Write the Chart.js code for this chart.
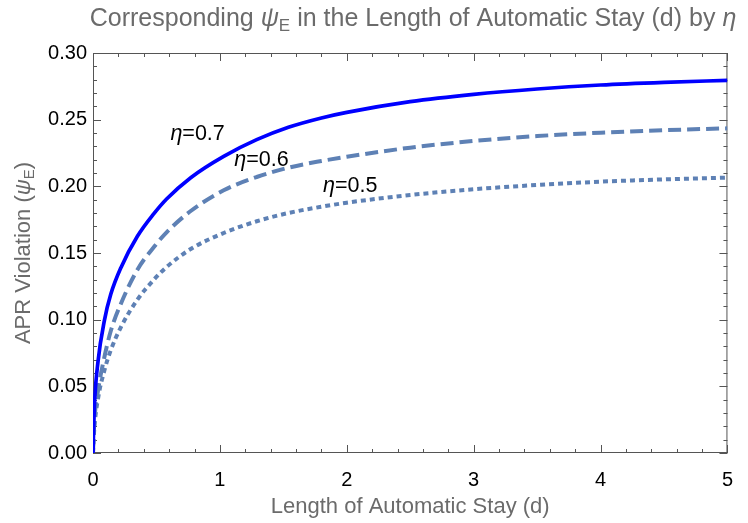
<!DOCTYPE html>
<html>
<head>
<meta charset="utf-8">
<script src="https://cdn.jsdelivr.net/npm/chart.js@4/dist/chart.umd.min.js"></script>
<style>
  html, body { margin: 0; padding: 0; background: #fff; }
  #wrap { width: 748px; height: 523px; position: relative; }
</style>
</head>
<body>
<div id="wrap"><canvas id="c"></canvas></div>
<script>
// length of automatic stay (d)
const days = [0, 0.01, 0.04, 0.09, 0.14, 0.22, 0.35, 0.48, 0.58, 0.77, 1.03, 1.29, 1.54, 1.8, 2.0, 2.5, 3.0, 3.5, 4.0, 4.5, 5.0];
const eta07 = [0, 0.033, 0.069, 0.0995, 0.119, 0.139, 0.1625, 0.1795, 0.1905, 0.2065, 0.2225, 0.2350, 0.2443, 0.2513, 0.2555, 0.2635, 0.2690, 0.2730, 0.2760, 0.2780, 0.2795];
const eta06 = [0, 0.023, 0.047, 0.072, 0.0915, 0.112, 0.1375, 0.1545, 0.1655, 0.1815, 0.1970, 0.2070, 0.2140, 0.2190, 0.2222, 0.2290, 0.2340, 0.2377, 0.2402, 0.2421, 0.2435];
const eta05 = [0, 0.018, 0.041, 0.062, 0.077, 0.0944, 0.1150, 0.1300, 0.1395, 0.1530, 0.1650, 0.1738, 0.1800, 0.1847, 0.1877, 0.1935, 0.1978, 0.2010, 0.2035, 0.2052, 0.2065];

const seriesNames = ['0.7', '0.6', '0.5'];
// curve label anchors (left edge, baseline) in data units
const labelX = [0.61, 1.113, 1.813];
const labelY = [0.2348, 0.2155, 0.1957];

const xTicks = [0, 1, 2, 3, 4, 5];
const yTicks = [0, 0.05, 0.10, 0.15, 0.20, 0.25, 0.30];

const FONT = "'Liberation Sans', Arial, sans-serif";
const GRAY = '#6b6b6b';

function pts(ys) {
    return days.map((d, i) => ({ x: d, y: ys[i] }));
}

// draw a run of text pieces with mixed fonts, aligned on one baseline
function richText(ctx, parts, x, y, align) {
    let total = 0;
    parts.forEach(p => { ctx.font = p.font; total += ctx.measureText(p.t).width; });
    let cx = align === 'center' ? x - total / 2 : x;
    parts.forEach(p => {
        ctx.font = p.font;
        ctx.fillText(p.t, cx, y + (p.dy || 0));
        cx += ctx.measureText(p.t).width;
    });
}

const framePlugin = {
    id: 'frame',
    beforeDatasetsDraw(chart) {
        const { ctx, chartArea: a, scales: { x, y } } = chart;
        ctx.save();
        ctx.strokeStyle = '#555';
        ctx.lineWidth = 1;
        ctx.strokeRect(a.left + 0.5, a.top + 0.5, a.right - a.left - 1, a.bottom - a.top - 1);
        ctx.beginPath();
        for (let i = 0; i <= 25; i++) {
            const px = Math.round(x.getPixelForValue(i * 0.2)) + 0.5;
            const len = i % 5 === 0 ? 8 : 4;
            ctx.moveTo(px, a.bottom); ctx.lineTo(px, a.bottom - len);
            ctx.moveTo(px, a.top); ctx.lineTo(px, a.top + len);
        }
        for (let i = 0; i <= 30; i++) {
            const py = Math.round(y.getPixelForValue(i * 0.01)) + 0.5;
            const len = i % 5 === 0 ? 8 : 4;
            ctx.moveTo(a.left, py); ctx.lineTo(a.left + len, py);
            ctx.moveTo(a.right, py); ctx.lineTo(a.right - len, py);
        }
        ctx.stroke();
        ctx.restore();
    },
    afterDraw(chart) {
        const { ctx, chartArea: a, scales: { x, y } } = chart;
        ctx.save();
        ctx.textBaseline = 'alphabetic';

        // title
        ctx.fillStyle = GRAY;
        richText(ctx, [
            { t: 'Corresponding ', font: `25px ${FONT}` },
            { t: '\u03C8', font: `italic 25px ${FONT}` },
            { t: 'E', font: `17px ${FONT}`, dy: 5 },
            { t: ' in the Length of Automatic Stay (d) by ', font: `25px ${FONT}` },
            { t: '\u03B7', font: `italic 25px ${FONT}` }
        ], 413, 26, 'center');

        // x axis title
        richText(ctx, [{ t: 'Length of Automatic Stay (d)', font: `22px ${FONT}` }], (a.left + a.right) / 2, 513, 'center');

        // y axis title, rotated
        ctx.save();
        ctx.translate(30, (a.top + a.bottom) / 2);
        ctx.rotate(-Math.PI / 2);
        richText(ctx, [
            { t: 'APR Violation (', font: `22px ${FONT}` },
            { t: '\u03C8', font: `italic 22px ${FONT}` },
            { t: 'E', font: `15px ${FONT}`, dy: 4 },
            { t: ')', font: `22px ${FONT}` }
        ], 0, 0, 'center');
        ctx.restore();

        // curve labels
        ctx.fillStyle = '#000';
        seriesNames.forEach((n, i) => {
            richText(ctx, [
                { t: '\u03B7', font: `italic 21.5px ${FONT}` },
                { t: '=' + n, font: `21.5px ${FONT}` }
            ], x.getPixelForValue(labelX[i]), y.getPixelForValue(labelY[i]), 'left');
        });
        ctx.restore();
    }
};

new Chart(document.getElementById('c'), {
    type: 'line',
    data: {
        datasets: [
            { label: 'eta=0.7', data: pts(eta07), borderColor: '#0000ff', borderWidth: 3.7, borderDash: [] },
            { label: 'eta=0.6', data: pts(eta06), borderColor: '#5e81b5', borderWidth: 4, borderDash: [13, 6] },
            { label: 'eta=0.5', data: pts(eta05), borderColor: '#5e81b5', borderWidth: 4, borderDash: [5, 4] }
        ].map(ds => Object.assign(ds, {
            pointRadius: 0,
            fill: false,
            cubicInterpolationMode: 'monotone',
            borderCapStyle: 'butt'
        }))
    },
    options: {
        responsive: true,
        maintainAspectRatio: false,
        animation: false,
        layout: { padding: { left: 0, right: 7, top: 53, bottom: 0 } },
        plugins: { legend: { display: false }, tooltip: { enabled: false }, title: { display: false } },
        scales: {
            x: {
                type: 'linear', min: 0, max: 5,
                afterFit: s => { s.height = 70; },
                afterBuildTicks: s => { s.ticks = xTicks.map(v => ({ value: v })); },
                grid: { display: false, drawTicks: false },
                border: { display: false },
                ticks: { color: '#000', padding: 15, font: { family: FONT, size: 20 }, maxRotation: 0 }
            },
            y: {
                type: 'linear', min: 0, max: 0.30,
                afterFit: s => { s.width = 93; },
                afterBuildTicks: s => { s.ticks = yTicks.map(v => ({ value: v })); },
                grid: { display: false, drawTicks: false },
                border: { display: false },
                ticks: { color: '#000', padding: 6, font: { family: FONT, size: 20 }, callback: v => v.toFixed(2) }
            }
        }
    },
    plugins: [framePlugin]
});
</script>
</body>
</html>
